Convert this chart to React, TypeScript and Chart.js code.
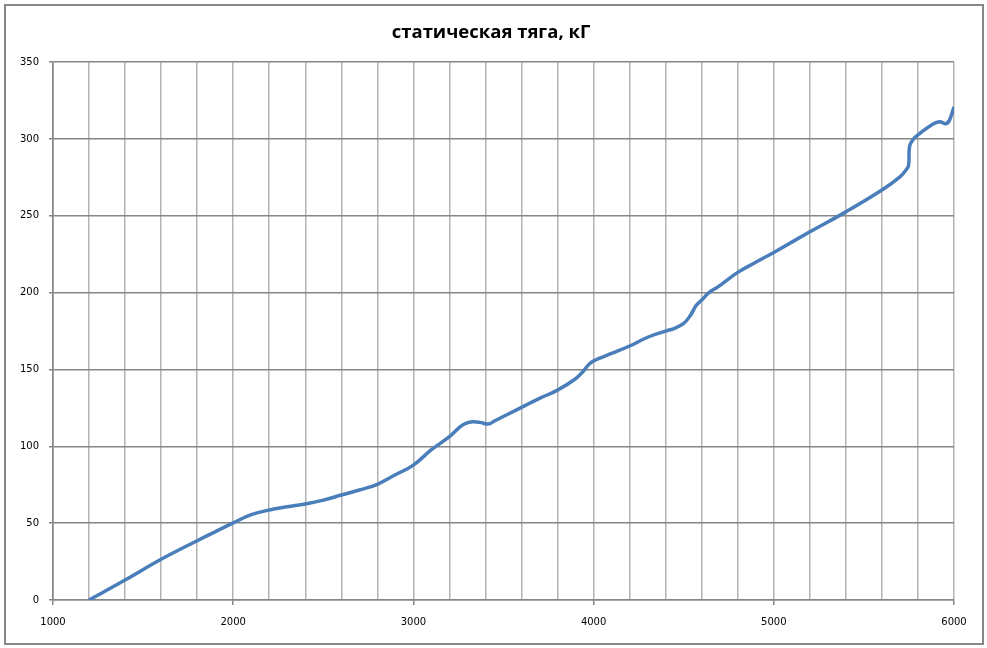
import { useEffect, useRef } from 'react';
import { Chart, registerables } from 'chart.js';

Chart.register(...registerables);

// обороты, об/мин
const rpm = [
  1200, 1400, 1600, 1800, 1910, 2000, 2100, 2200, 2300, 2400, 2500, 2600, 2700, 2800, 2900,
  3000, 3100, 3200, 3260, 3290, 3330, 3370, 3415, 3450, 3570, 3700, 3800, 3900, 3940, 3980,
  4030, 4100, 4200, 4300, 4400, 4450, 4500, 4535, 4570, 4600, 4640, 4690, 4800, 4900, 5000,
  5200, 5400, 5600, 5700, 5735, 5748, 5754, 5775, 5810, 5880, 5920, 5955, 5975, 6000
];
// статическая тяга, кГ
const thrust = [
  0, 13, 26.5, 38.6, 45, 50.2, 55.5, 58.6, 60.7, 62.5, 65, 68.3, 71.6, 75.3, 81.5,
  87.8, 97.8, 106.3, 112.8, 115, 116, 115.6, 114.5, 116.5, 123.6, 131.2, 136.6, 144, 148.5, 154,
  157.2, 160.5, 165.3, 171, 175, 176.8, 180, 184.8, 191.8, 195.2, 200, 203.8, 213.2, 219.8, 226.2,
  239.6, 252.6, 266.8, 275.4, 280, 283, 295.5, 300, 303.6, 309.5, 311.3, 310, 312.3, 321
];

const title = 'статическая тяга, кГ';
const xMin = 1000;
const xMax = 6000;
const yMin = 0;
const yMax = 350;

const axisGray = '#868686';
const gridGray = '#b3b3b3';
const tickFont = { family: 'DejaVu Sans', size: 10 };

const frame = {
  id: 'frame',
  beforeDraw(chart: Chart) {
    const c = chart.ctx;
    c.save();
    c.fillStyle = '#fff';
    c.fillRect(0, 0, chart.width, chart.height);
    c.strokeStyle = axisGray;
    c.lineWidth = 2;
    c.strokeRect(5, 5, 978, 639);
    c.restore();
  }
};

export default function App() {
  const ref = useRef<HTMLCanvasElement | null>(null);

  useEffect(() => {
    if (!ref.current) return;
    const chart = new Chart(ref.current, {
      type: 'line',
      data: {
        datasets: [
          {
            label: title,
            data: rpm.map((x, i) => ({ x, y: thrust[i] })),
            borderColor: '#4a7ebb',
            borderWidth: 3.5,
            pointRadius: 0,
            fill: false,
            tension: 0.4
          }
        ]
      },
      options: {
        responsive: true,
        maintainAspectRatio: false,
        animation: false,
        layout: { padding: { top: 3, right: 5, bottom: 0, left: 0 } },
        plugins: {
          legend: { display: false },
          tooltip: { enabled: false },
          title: {
            display: true,
            text: title,
            color: '#000',
            font: { family: 'Open Sans', size: 18.5, weight: 'bold', lineHeight: 1.2 },
            padding: { top: 19, bottom: 18 }
          }
        },
        scales: {
          x: {
            type: 'linear',
            min: xMin,
            max: xMax,
            afterFit: (s) => {
              s.height = 48;
            },
            grid: {
              color: (ctx) => (ctx.tick && ctx.tick.value === xMin ? axisGray : gridGray),
              lineWidth: 1.5,
              tickLength: 5,
              tickColor: (ctx) =>
                ctx.tick && ctx.tick.value % 1000 === 0 ? axisGray : 'rgba(0,0,0,0)'
            },
            border: { color: axisGray, width: 1.5 },
            ticks: {
              stepSize: 200,
              autoSkip: false,
              maxRotation: 0,
              padding: 11,
              color: '#000',
              font: tickFont,
              callback: (v) => (Number(v) % 1000 === 0 ? String(v) : '')
            }
          },
          y: {
            min: yMin,
            max: yMax,
            afterFit: (s) => {
              s.width = 53;
            },
            grid: { color: axisGray, lineWidth: 1.5, tickLength: 4, tickColor: axisGray },
            border: { color: axisGray, width: 1.5 },
            ticks: { stepSize: 50, padding: 10, color: '#000', font: tickFont }
          },
          // empty right margin so the title stays centred on the whole frame
          yRight: {
            position: 'right',
            min: yMin,
            max: yMax,
            afterFit: (s) => {
              s.width = 28;
            },
            grid: { display: false },
            border: { display: false },
            ticks: { display: false }
          }
        }
      },
      plugins: [frame]
    });
    return () => chart.destroy();
  }, []);

  return (
    <div style={{ position: 'fixed', left: 0, top: 0, width: 987, height: 648 }}>
      <canvas ref={ref} />
    </div>
  );
}
